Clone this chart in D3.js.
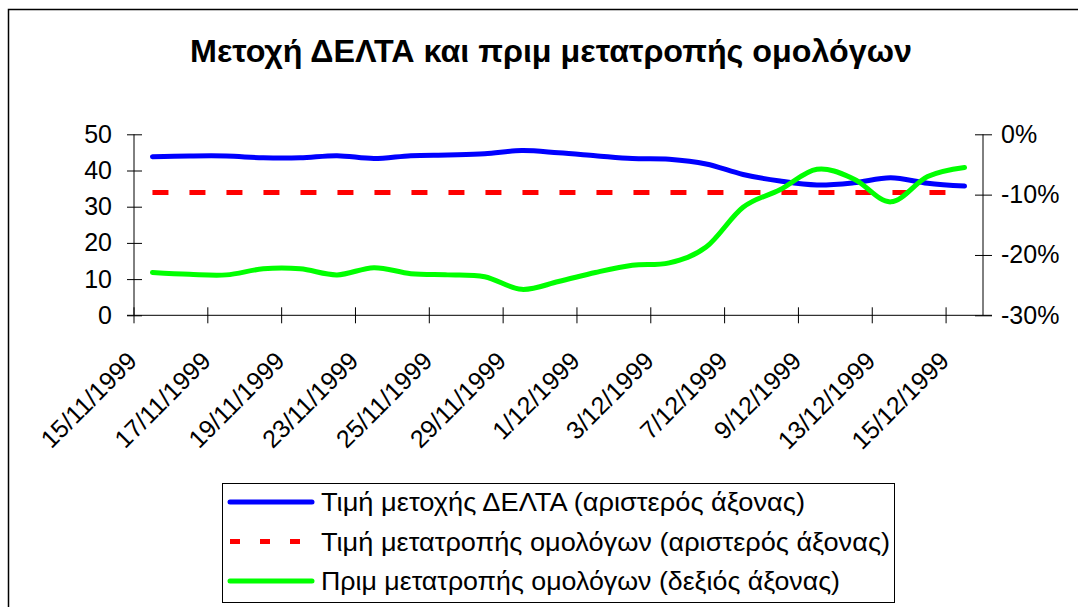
<!DOCTYPE html>
<html lang="el">
<head>
<meta charset="utf-8">
<title>Μετοχή ΔΕΛΤΑ και πριμ μετατροπής ομολόγων</title>
<script src="https://cdn.jsdelivr.net/npm/d3@7"></script>
<style>
    html, body { margin: 0; padding: 0; background: #ffffff; overflow: hidden; }
    svg { display: block; font-family: "Liberation Sans", Arial, sans-serif; }
</style>
</head>
<body>
<svg id="chart" width="1078" height="607"></svg>
<script>
// Données
const dates = [
    "15/11/1999", "16/11/1999", "17/11/1999", "18/11/1999", "19/11/1999",
    "22/11/1999", "23/11/1999", "24/11/1999", "25/11/1999", "26/11/1999",
    "29/11/1999", "30/11/1999", "1/12/1999", "2/12/1999", "3/12/1999",
    "6/12/1999", "7/12/1999", "8/12/1999", "9/12/1999", "10/12/1999",
    "13/12/1999", "14/12/1999", "15/12/1999"
];
const deltaPrice = [
    43.8, 44.0, 44.0, 43.5, 43.5, 44.1, 43.3, 44.1, 44.3, 44.6,
    45.5, 44.9, 44.1, 43.3, 43.1, 41.8, 38.9, 37.1, 36.0, 36.6,
    38.0, 36.5, 35.7
];
const conversionPrice = [
    33.9, 33.9, 33.9, 33.9, 33.9, 33.9, 33.9, 33.9, 33.9, 33.9,
    33.9, 33.9, 33.9, 33.9, 33.9, 33.9, 33.9, 33.9, 33.9, 33.9,
    33.9, 33.9, 33.9
];
// πριμ σε %
const premium = [
    -22.9, -23.2, -23.3, -22.3, -22.3, -23.3, -22.1, -23.1, -23.3, -23.6,
    -25.7, -24.4, -22.9, -21.7, -21.3, -18.7, -12.1, -9.2, -5.8, -7.4,
    -11.2, -7.0, -5.5
];
const leftTicks = [0, 10, 20, 30, 40, 50];
const rightTicks = [0, -10, -20, -30];

const titleText = "Μετοχή ΔΕΛΤΑ και πριμ μετατροπής ομολόγων";
const legendLabels = [
    "Τιμή μετοχής ΔΕΛΤΑ (αριστερός άξονας)",
    "Τιμή μετατροπής ομολόγων (αριστερός άξονας)",
    "Πριμ μετατροπής ομολόγων (δεξιός άξονας)"
];

// Configuration
const config = {
    plot: { left: 134, right: 983, top: 134.3, bottom: 315.3 },
    colors: { delta: "#0000ff", conversion: "#ff0000", premium: "#00ff00" },
    fontSize: 25
};

const svg = d3.select("#chart");
const p = config.plot;

// Cadre extérieur du graphique
svg.append("rect")
    .attr("x", 8.5).attr("y", 9.5)
    .attr("width", 1100).attr("height", 700)
    .attr("fill", "#ffffff")
    .attr("stroke", "#000")
    .attr("stroke-width", 1.5);

// Titre
svg.append("text")
    .attr("x", 551).attr("y", 62)
    .attr("text-anchor", "middle")
    .attr("font-size", 31)
    .attr("font-weight", "bold")
    .attr("textLength", 722)
    .attr("lengthAdjust", "spacingAndGlyphs")
    .text(titleText);

// Échelles
const x = d3.scaleBand().domain(dates).range([p.left, p.right]).padding(0);
const bw = x.bandwidth();
const cx = d => x(d) + bw / 2;
const yLeft = d3.scaleLinear().domain([0, 50]).range([p.bottom, p.top]);
const yRight = d3.scaleLinear().domain([-30, 0]).range([p.bottom, p.top]);

// Axe gauche
const gLeft = svg.append("g")
    .attr("transform", `translate(${p.left},0)`)
    .call(d3.axisLeft(yLeft).tickValues(leftTicks).tickSize(7).tickPadding(15));
gLeft.selectAll(".tick line").attr("x1", 8).attr("x2", -7);
gLeft.selectAll("text").attr("font-size", config.fontSize).attr("font-family", "Liberation Sans, Arial, sans-serif").attr("fill", "#000");
gLeft.select(".domain").attr("d", `M0,${p.top}V${p.bottom}`);

// Axe droit
const gRight = svg.append("g")
    .attr("transform", `translate(${p.right},0)`)
    .call(d3.axisRight(yRight).tickValues(rightTicks).tickSize(9).tickPadding(9)
        .tickFormat(d => d + "%"));
gRight.selectAll(".tick line").attr("x1", -8).attr("x2", 9);
gRight.selectAll("text").attr("font-size", config.fontSize).attr("font-family", "Liberation Sans, Arial, sans-serif").attr("fill", "#000");
gRight.select(".domain").attr("d", `M0,${p.top}V${p.bottom}`);

// Axe des catégories
const gBottom = svg.append("g");
gBottom.append("line")
    .attr("x1", p.left - 7).attr("x2", p.right + 9)
    .attr("y1", p.bottom).attr("y2", p.bottom)
    .attr("stroke", "#000");
const labelled = dates.filter((d, i) => i % 2 === 0);
gBottom.selectAll("line.tick")
    .data(labelled)
    .enter().append("line")
    .attr("class", "tick")
    .attr("x1", d => x(d)).attr("x2", d => x(d))
    .attr("y1", p.bottom - 8).attr("y2", p.bottom + 8)
    .attr("stroke", "#000");
gBottom.selectAll("text")
    .data(labelled)
    .enter().append("text")
    .attr("transform", d => `translate(${cx(d) - 14},${p.bottom + 47}) rotate(-45)`)
    .attr("text-anchor", "end")
    .attr("font-size", config.fontSize)
    .text(d => d);

// Courbes
const smooth = d3.curveCatmullRom.alpha(0);
const lineLeft = d3.line().x((d, i) => cx(dates[i])).y(d => yLeft(d)).curve(smooth);
const lineStraight = d3.line().x((d, i) => cx(dates[i])).y(d => yLeft(d));
const lineRight = d3.line().x((d, i) => cx(dates[i])).y(d => yRight(d)).curve(smooth);

svg.append("path")
    .attr("d", lineStraight(conversionPrice))
    .attr("fill", "none")
    .attr("stroke", config.colors.conversion)
    .attr("stroke-width", 5)
    .attr("stroke-dasharray", "16,21");

svg.append("path")
    .attr("d", lineLeft(deltaPrice))
    .attr("fill", "none")
    .attr("stroke", config.colors.delta)
    .attr("stroke-width", 5)
    .attr("stroke-linecap", "round");

svg.append("path")
    .attr("d", lineRight(premium))
    .attr("fill", "none")
    .attr("stroke", config.colors.premium)
    .attr("stroke-width", 5)
    .attr("stroke-linecap", "round");

// Légende
const legend = svg.append("g");
legend.append("rect")
    .attr("x", 222.5).attr("y", 483.5)
    .attr("width", 672).attr("height", 119)
    .attr("fill", "#fff")
    .attr("stroke", "#000");

// largeur de chaque texte dans le modèle
const legendItems = [
    { label: legendLabels[0], color: config.colors.delta, dash: null, width: 484 },
    { label: legendLabels[1], color: config.colors.conversion, dash: "10,20", width: 569 },
    { label: legendLabels[2], color: config.colors.premium, dash: null, width: 519 }
];
const row = legend.selectAll("g.item")
    .data(legendItems)
    .enter().append("g")
    .attr("class", "item")
    .attr("transform", (d, i) => `translate(0,${502 + i * 39.5})`);
row.append("line")
    .attr("x1", 230).attr("x2", d => d.dash ? 313 : 312)
    .attr("y1", 0).attr("y2", 0)
    .attr("stroke", d => d.color)
    .attr("stroke-width", 5)
    .attr("stroke-linecap", d => d.dash ? "butt" : "round")
    .attr("stroke-dasharray", d => d.dash);
row.append("text")
    .attr("x", 321).attr("y", 9)
    .attr("font-size", 26)
    .attr("textLength", d => d.width)
    .attr("lengthAdjust", "spacingAndGlyphs")
    .text(d => d.label);
</script>
</body>
</html>
